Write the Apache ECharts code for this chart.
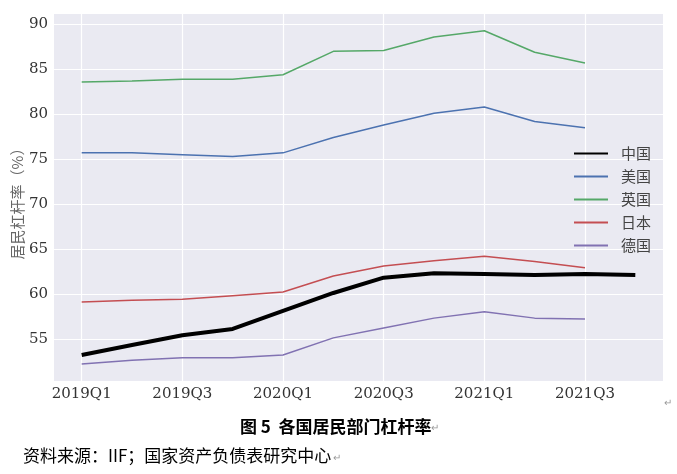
<!DOCTYPE html>
<html>
<head>
<meta charset="utf-8">
<script src="https://cdn.jsdelivr.net/npm/echarts@6/dist/echarts.min.js"></script>
<style>
html,body{margin:0;padding:0;background:#fff;}
#chart{width:677px;height:474px;}
</style>
</head>
<body>
<div id="chart"></div>
<script>
const quarters = ['2019Q1','2019Q2','2019Q3','2019Q4','2020Q1','2020Q2','2020Q3','2020Q4','2021Q1','2021Q2','2021Q3','2021Q4'];
const xTickIdx = [0, 2, 4, 6, 8, 10];
const yTicks = [55, 60, 65, 70, 75, 80, 85, 90];
const china   = [53.2, 54.3, 55.4, 56.1, 58.1, 60.1, 61.8, 62.3, 62.2, 62.1, 62.2, 62.1];
const us      = [75.7, 75.7, 75.5, 75.3, 75.7, 77.4, 78.8, 80.1, 80.8, 79.2, 78.5];
const uk      = [83.6, 83.7, 83.9, 83.9, 84.4, 87.0, 87.1, 88.6, 89.3, 86.9, 85.7];
const japan   = [59.1, 59.3, 59.4, 59.8, 60.2, 62.0, 63.1, 63.7, 64.2, 63.6, 62.9];
const germany = [52.2, 52.6, 52.9, 52.9, 53.2, 55.1, 56.2, 57.3, 58.0, 57.3, 57.2];
const names = ['中国','美国','英国','日本','德国'];
const yName = '居民杠杆率（%）';

function pts(arr){ return arr.map((v,i)=>[i,v]); }

const chart = echarts.init(document.getElementById('chart'), null, {renderer:'canvas'});
const serif = 'DejaVu Serif';
const cjk = '"Noto Sans CJK SC", sans-serif';

function line(name, data, color, width){
  return {name, type:'line', data:pts(data), symbol:'none', showSymbol:false,
    lineStyle:{color, width}, itemStyle:{color}, animation:false, z: width>2?3:2};
}

chart.setOption({
  backgroundColor:'#ffffff',
  animation:false,
  grid:{left:54, top:14, right:14, bottom:93, show:true, backgroundColor:'#EAEAF2', borderWidth:0, outerBoundsMode:'none', containLabel:false},
  xAxis:{
    type:'value', min:-0.55, max:11.55,
    axisLine:{show:false},
    axisTick:{show:false, customValues:xTickIdx},
    axisLabel:{customValues:xTickIdx, formatter:(v)=>quarters[Math.round(v)], fontFamily:serif, fontSize:15, color:'#333', margin:6},
    splitLine:{show:true, lineStyle:{color:'#ffffff', width:1.2}}
  },
  yAxis:{
    type:'value', min:50.3, max:91.16,
    axisLine:{show:false},
    axisTick:{show:false, customValues:yTicks},
    axisLabel:{customValues:yTicks, fontFamily:serif, fontSize:15, color:'#333', margin:6},
    splitLine:{show:true, lineStyle:{color:'#ffffff', width:1.2}}
  },
  legend:{
    data:names, orient:'vertical', left:573, top:146, padding:0,
    itemWidth:34, itemHeight:14, itemGap:8,
    itemStyle:{color:'transparent', borderWidth:0, opacity:0},
    textStyle:{fontFamily:cjk, fontSize:15, color:'#444', padding:[0,0,0,8]}
  },
  series:[
    line('中国', china, '#000000', 4),
    line('美国', us, '#4C72B0', 1.5),
    line('英国', uk, '#55A868', 1.5),
    line('日本', japan, '#C44E52', 1.5),
    line('德国', germany, '#8172B2', 1.5)
  ],
  graphic:[
    {type:'text', x:17, y:200, rotation:Math.PI/2, style:{text:yName, fontFamily:cjk, fontSize:15, fill:'#666', align:'center', verticalAlign:'middle'}},
    {type:'text', left:240, top:418, style:{text:'图 5  各国居民部门杠杆率', fontFamily:cjk, fontSize:17, fontWeight:'bold', fill:'#000'}},
    {type:'text', left:431, top:422, style:{text:'↵', fontFamily:cjk, fontSize:10, fill:'#999'}},
    {type:'text', left:664, top:397, style:{text:'↵', fontFamily:cjk, fontSize:10, fill:'#999'}},
    {type:'text', left:23, top:447, style:{text:'资料来源：IIF；国家资产负债表研究中心', fontFamily:cjk, fontSize:17, fill:'#000'}},
    {type:'text', left:333, top:452, style:{text:'↵', fontFamily:cjk, fontSize:10, fill:'#999'}}
  ]
});
</script>
</body>
</html>
